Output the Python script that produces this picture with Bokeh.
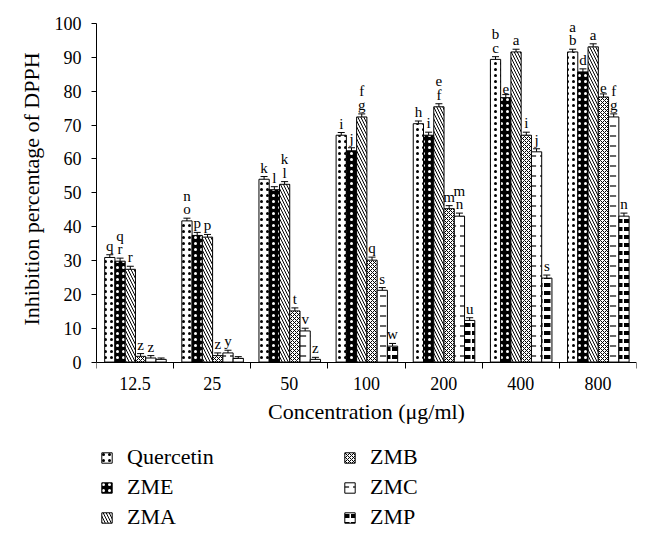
import numpy as np
from bokeh.plotting import figure
from bokeh.models import (ColumnDataSource, Whisker, TeeHead, FixedTicker, Legend,
                          LegendItem, Range1d, Title)
from bokeh.embed import file_html
from bokeh.resources import INLINE
from bokeh.core.properties import value

# ---------------- data ----------------
concentrations = ["12.5", "25", "50", "100", "200", "400", "800"]
series_names = ["Quercetin", "ZME", "ZMA", "ZMB", "ZMC", "ZMP"]

quercetin = [30.9, 41.7, 54.0, 67.0, 70.4, 89.4, 91.6]
zme = [29.8, 37.4, 50.9, 62.4, 67.0, 78.1, 85.7]
zma = [27.4, 36.9, 52.5, 72.4, 75.4, 91.6, 93.1]
zmb = [1.7, 1.9, 15.1, 30.1, 45.3, 67.0, 78.3]
zmc = [1.2, 2.7, 9.2, 21.2, 43.1, 62.1, 72.4]
zmp = [0.8, 1.1, 0.8, 4.7, 12.3, 24.8, 43.1]

err_quercetin = [0.8, 0.8, 0.8, 0.8, 0.8, 0.8, 0.8]
err_zme = [0.9, 0.9, 0.9, 0.9, 0.9, 0.9, 0.9]
err_zma = [0.9, 0.8, 0.8, 0.9, 0.9, 0.8, 0.9]
err_zmb = [0.8, 0.8, 0.9, 0.9, 0.9, 0.9, 0.9]
err_zmc = [0.7, 0.8, 0.8, 0.8, 0.9, 0.9, 0.9]
err_zmp = [0.4, 0.5, 0.6, 0.8, 0.8, 0.9, 0.9]

let_quercetin = ["q", "n\no", "k", "i", "h", "b\nc", "a\nb"]
let_zme = ["q\nr", "p", "l", "j", "i", "e", "d"]
let_zma = ["r", "p", "k\nl", "f\ng", "e\nf", "a", "a"]
let_zmb = ["z", "z", "t", "q", "m", "i", "e"]
let_zmc = ["z", "y", "v", "s", "m\nn", "j", "f\ng"]
let_zmp = ["", "", "z", "w", "u", "s", "n"]

values_all = [quercetin, zme, zma, zmb, zmc, zmp]
errors_all = [err_quercetin, err_zme, err_zma, err_zmb, err_zmc, err_zmp]
letters_all = [let_quercetin, let_zme, let_zma, let_zmb, let_zmc, let_zmp]

FONT = "Liberation Serif"

styles = [
    dict(fill_color="white", hatch_pattern="dot", hatch_color="black", hatch_scale=6, hatch_weight=1.2),
    dict(fill_color="black", hatch_pattern="dot", hatch_color="white", hatch_scale=6, hatch_weight=1.2),
    dict(fill_color="white", hatch_pattern="left_diagonal_line", hatch_color="black", hatch_scale=6, hatch_weight=1.0),
    dict(fill_color="white", hatch_pattern="diagonal_cross", hatch_color="black", hatch_scale=4, hatch_weight=1.0),
    dict(fill_color="white", hatch_pattern="horizontal_dash", hatch_color="black", hatch_scale=10, hatch_weight=1.2),
    dict(fill_color="white", hatch_pattern="horizontal_dash", hatch_color="black", hatch_scale=8, hatch_weight=4),
]

# frame spans the whole lower area so the legend can sit inside it;
# the x axis is pinned at y = 0
p = figure(width=656, height=540, output_backend="svg", toolbar_location=None,
           x_range=Range1d(0, 7), y_range=Range1d(-52.7, 100),
           min_border_left=96, min_border_right=20, min_border_top=23, min_border_bottom=0)
p.outline_line_color = None
p.grid.grid_line_color = None
p.background_fill_color = "white"

centers = np.arange(len(concentrations)) + 0.5
bar_w = 0.133

renderers = []
for k, (vals, errs, lets, st) in enumerate(zip(values_all, errors_all, letters_all, styles)):
    xs = centers + (k - 2.5) * bar_w + 0.005
    vals = np.array(vals)
    errs = np.array(errs)
    src = ColumnDataSource(dict(x=xs, top=vals, upper=vals + errs, lower=vals - errs,
                                lab=lets))
    r = p.vbar(x="x", top="top", width=bar_w, bottom=0, source=src,
               line_color="black", line_width=1, **st)
    renderers.append(r)
    w = Whisker(base="x", upper="upper", lower="lower", source=src,
                line_color="black", line_width=1,
                upper_head=TeeHead(size=7, line_color="black", line_width=1),
                lower_head=TeeHead(size=7, line_color="black", line_width=1))
    p.add_layout(w)
    p.text(x="x", y="upper", text="lab", source=src, text_align="center",
           text_baseline="bottom", y_offset=-1, text_font=value(FONT),
           text_font_size="15px", text_line_height=0.85, text_color="black")

# axes
p.xaxis.fixed_location = 0
p.xaxis.ticker = FixedTicker(ticks=list(centers), minor_ticks=list(range(len(concentrations) + 1)))
p.xaxis.major_label_overrides = {float(c): lab for c, lab in zip(centers, concentrations)}
p.xaxis.major_tick_line_color = None
p.xaxis.minor_tick_out = 6
p.xaxis.minor_tick_in = 0
p.xaxis.minor_tick_line_color = "black"
p.xaxis.axis_label = "Concentration (μg/ml)"

p.yaxis.bounds = (0, 100)
p.yaxis.ticker = FixedTicker(ticks=list(range(0, 101, 10)))
p.yaxis.major_tick_out = 5
p.yaxis.major_tick_in = 0
p.yaxis.minor_tick_line_color = None

for ax in (p.xaxis, p.yaxis):
    ax.axis_line_color = "black"
    ax.axis_line_width = 1
    ax.major_label_text_font = FONT
    ax.major_label_text_font_size = "18px"
    ax.major_label_text_color = "black"
    ax.axis_label_text_font = FONT
    ax.axis_label_text_font_size = "22px"
    ax.axis_label_text_font_style = "normal"
    ax.axis_label_text_color = "black"
p.xaxis.major_label_standoff = 9
p.xaxis.axis_label_standoff = 5
p.yaxis.major_label_standoff = 10

# y axis title, centred on the 0-100 span of the axis
ytitle = Title(text="Inhibition percentage of DPPH", align="left", offset=215,
               text_font=FONT, text_font_size="22px", text_font_style="normal",
               text_color="black", standoff=16)
p.add_layout(ytitle, "left")

items = [LegendItem(label=n, renderers=[r]) for n, r in zip(series_names, renderers)]
legend = Legend(items=items, location=(4, 10), orientation="vertical", nrows=3,
                border_line_color=None, background_fill_alpha=0,
                glyph_width=13, glyph_height=13, label_standoff=14, label_width=212,
                label_height=24, spacing=4, padding=0, margin=0,
                label_text_font=FONT, label_text_font_size="22px", label_text_color="black")
p.add_layout(legend, "center")

open("out.html", "w").write(file_html(p, INLINE))
